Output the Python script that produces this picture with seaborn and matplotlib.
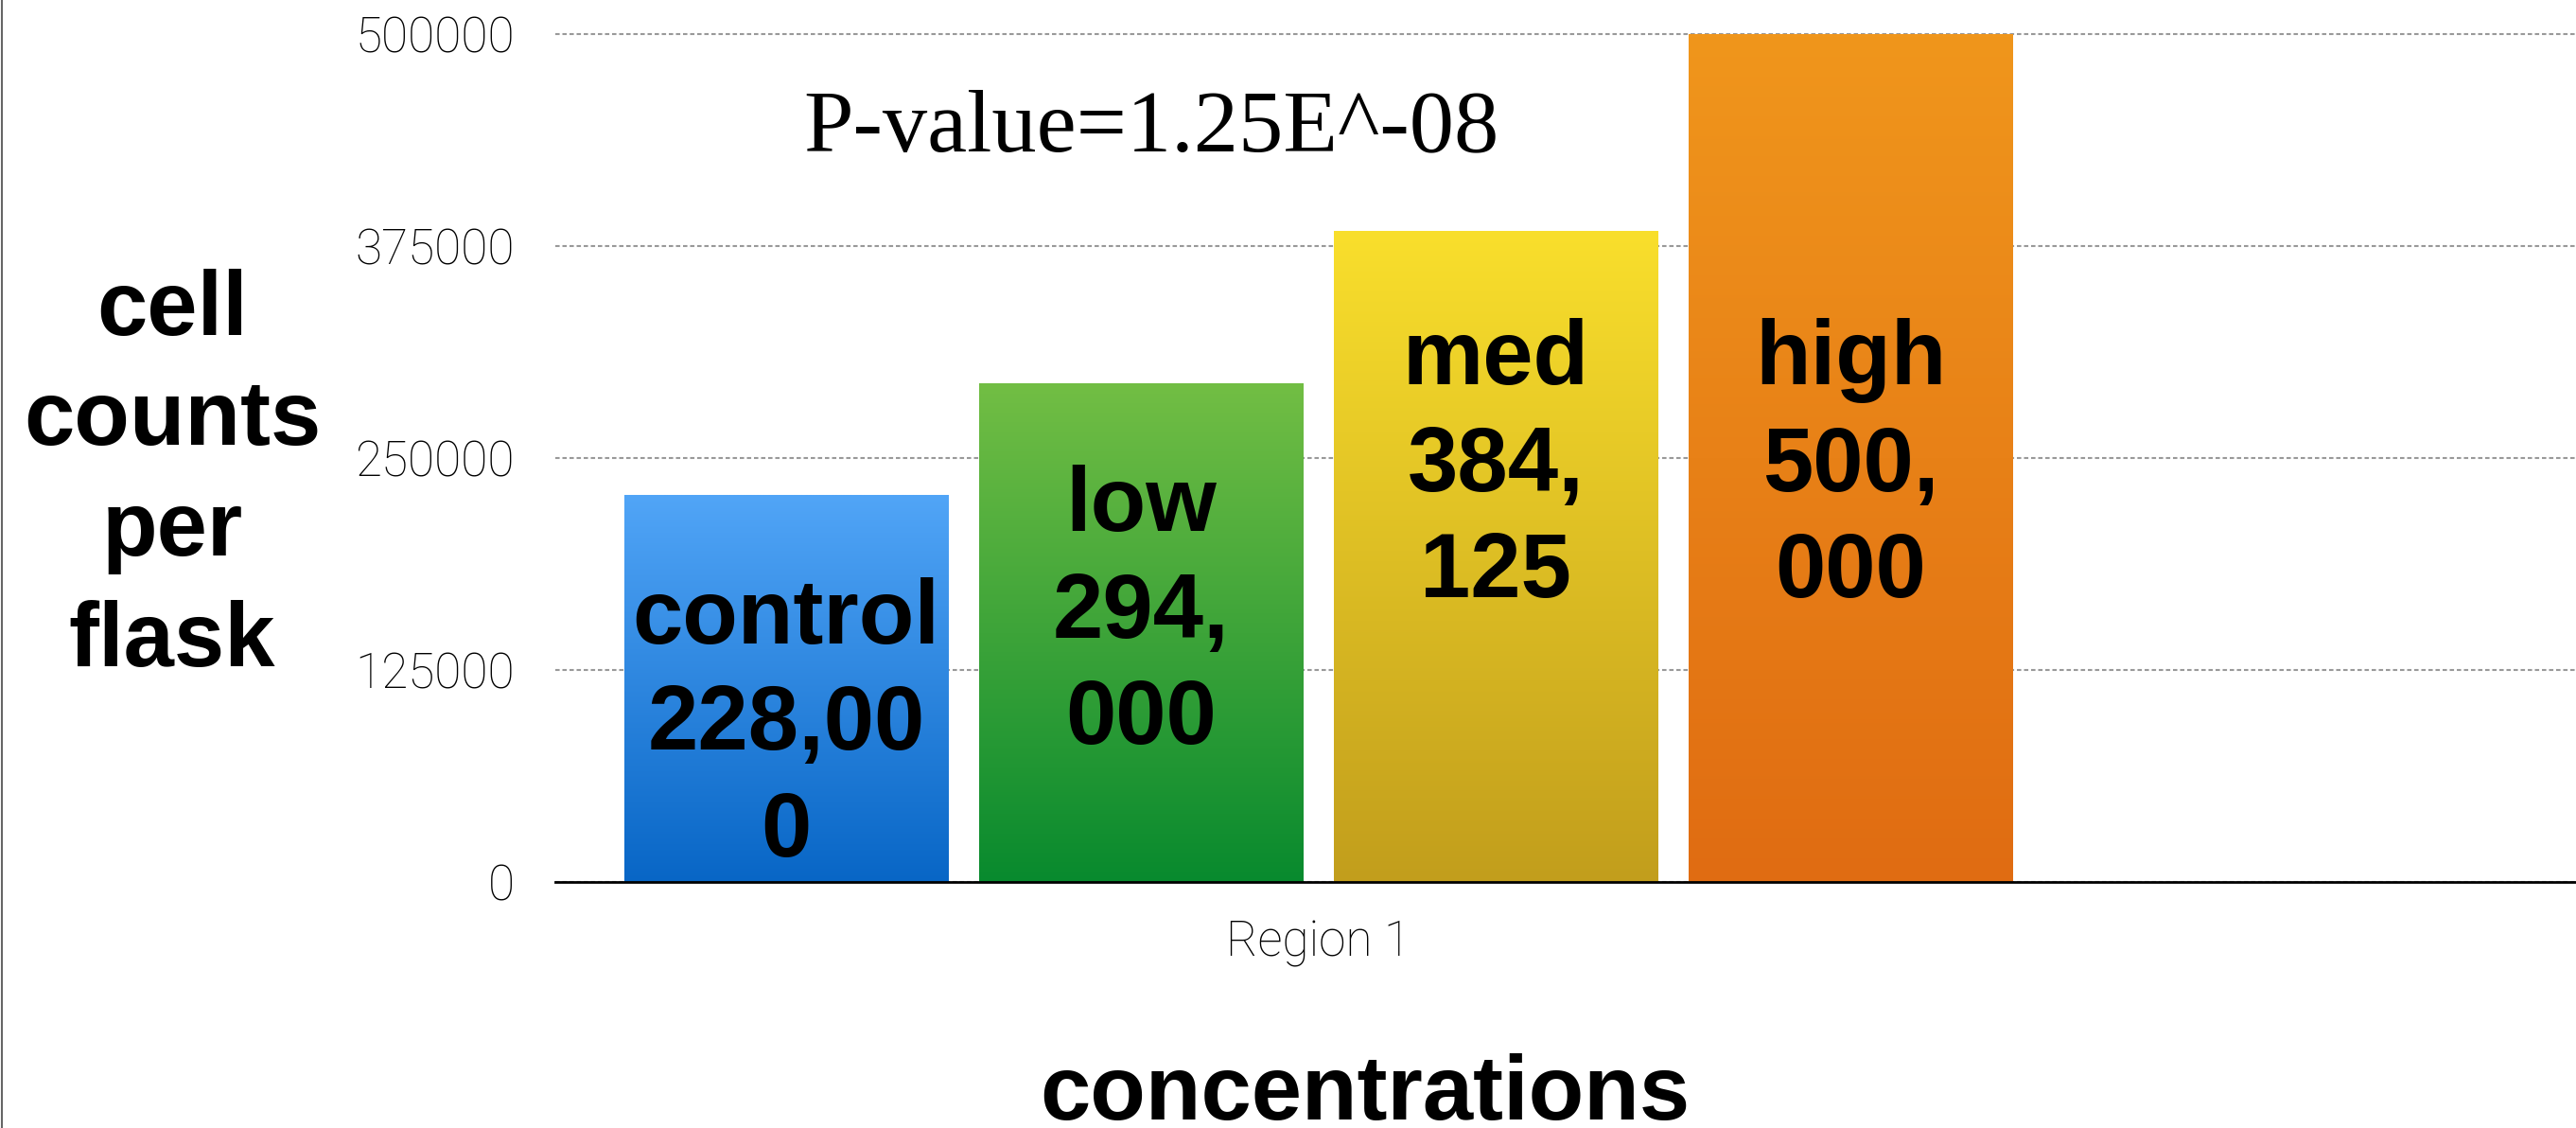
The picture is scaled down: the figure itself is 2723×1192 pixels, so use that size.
import numpy as np
import pandas as pd
import seaborn as sns
import matplotlib.pyplot as plt
from matplotlib.colors import LinearSegmentedColormap
from matplotlib.lines import Line2D

# data
region = "Region 1"
groups = ["control", "low", "med", "high"]
values = [228000, 294000, 384125, 500000]
bar_texts = ["control\n228,00\n0", "low\n294,\n000", "med\n384,\n125", "high\n500,\n000"]
text_heights = [92000, 158000, 244500, 244500]  # where keynote put the labels
top_colors = ["#51A5F7", "#72BE44", "#F9DF2C", "#F0961C"]
bottom_colors = ["#0866C6", "#088A2E", "#C29E1C", "#E06C12"]
yticks = [0, 125000, 250000, 375000, 500000]
p_text = "P-value=1.25E^-08"

sns.set_style("white")
plt.rcParams['font.family'] = ['Liberation Sans', 'DejaVu Sans']
plt.rcParams['text.color'] = 'black'

df = pd.DataFrame({"region": [region] * len(groups), "group": groups, "count": values})

fig = plt.figure(figsize=(27.23, 11.92), dpi=100)
ax = fig.add_axes([0.2156, 0.2181, 0.7844, 0.7517])

sns.barplot(data=df, x="region", y="count", hue="group", hue_order=groups,
            palette=top_colors, width=0.8, legend=False, ax=ax)

ax.set_xlim(-0.430, 0.709)
ax.set_ylim(0, 500000)

# gradient fill + gap between bars
for cont, c_top, c_bot, txt, ty in zip(ax.containers, top_colors, bottom_colors, bar_texts, text_heights):
    for bar in cont:
        w = bar.get_width()
        nw = w * 342 / 375
        bar.set_x(bar.get_x() + (w - nw) / 2)
        bar.set_width(nw)
        x0, y0 = bar.get_x(), bar.get_y()
        x1, y1 = x0 + nw, y0 + bar.get_height()
        cmap = LinearSegmentedColormap.from_list("g", [c_bot, c_top])
        grad = np.linspace(0, 1, 256).reshape(-1, 1)
        im = ax.imshow(grad, cmap=cmap, extent=[x0, x1, y0, y1], origin="lower",
                       aspect="auto", zorder=bar.get_zorder())
        im.set_clip_path(bar)
        bar.set_facecolor("none")
        bar.set_edgecolor("none")
        ax.text(x0 + nw / 2, ty, txt, ha="center", va="center", fontsize=69,
                fontweight="bold", linespacing=1.32, color="black", zorder=5)

ax.set_xlim(-0.430, 0.709)
ax.set_ylim(0, 500000)

ax.set_yticks(yticks)
ax.set_yticklabels([str(v) for v in yticks])
ax.yaxis.grid(True, color="#999999", linestyle=(0, (2.2, 1.4)), linewidth=1.5)
ax.xaxis.grid(False)
ax.set_axisbelow(True)
for gl in ax.get_ygridlines():
    gl.set_clip_on(False)

for lab in ax.get_yticklabels() + ax.get_xticklabels():
    lab.set_fontfamily(["Roboto", "DejaVu Sans"])
    lab.set_fontweight("light")
    lab.set_fontsize(37)
    lab.set_color("black")
ax.tick_params(axis="y", length=0, pad=31)
ax.tick_params(axis="x", length=0, pad=29)

for s in ["left", "right", "top"]:
    ax.spines[s].set_visible(False)
ax.spines["bottom"].set_color("black")
ax.spines["bottom"].set_linewidth(2)

ax.set_ylabel("cell\ncounts\nper\nflask", rotation=0, ha="center", va="center",
              fontsize=69, fontweight="bold", linespacing=1.38, color="black")
ax.yaxis.set_label_coords(-0.1896, 0.478)
ax.set_xlabel("concentrations", fontsize=69, fontweight="bold", va="baseline", color="black")
ax.xaxis.set_label_coords(0.4007, -0.2800)

ax.text(0.295, 0.887, p_text, transform=ax.transAxes, ha="center", va="center",
        fontsize=68, color="black", family=["Liberation Serif", "DejaVu Serif"])

fig.add_artist(Line2D([0.0006, 0.0006], [0, 1], color="#666666", linewidth=1.5))

fig.savefig("out.png", dpi=100)
